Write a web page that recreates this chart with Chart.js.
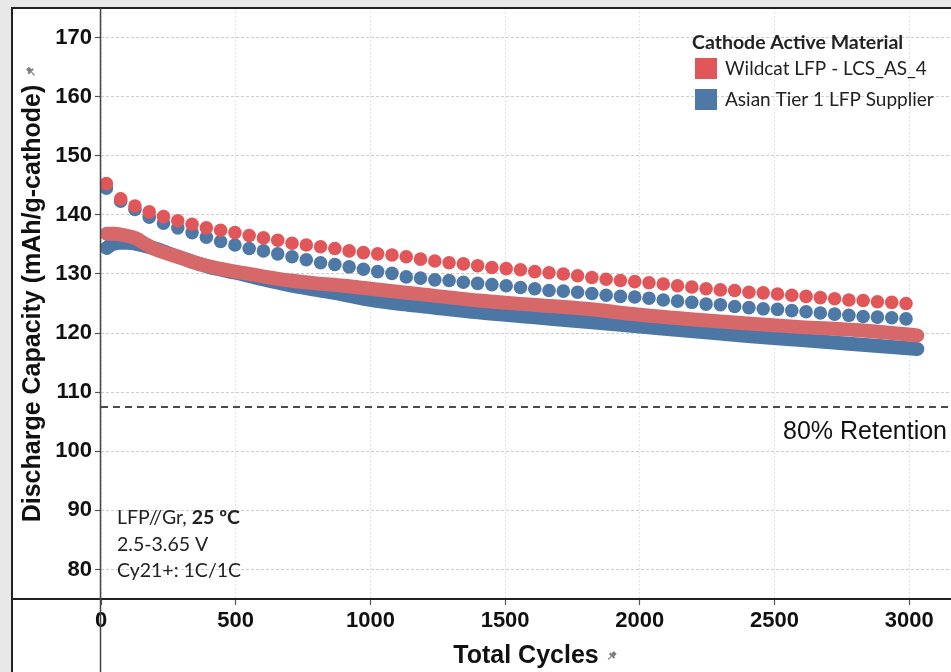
<!DOCTYPE html>
<html>
<head>
<meta charset="utf-8">
<script src="https://cdn.jsdelivr.net/npm/chart.js@4.4.1/dist/chart.umd.min.js"></script>
<style>
    html, body { margin: 0; padding: 0; background: #e8e8e8; }
    #wrap { width: 951px; height: 672px; }
</style>
</head>
<body>
<div id="wrap"><canvas id="capacityChart" width="951" height="672"></canvas></div>
<script>
// check-up cycles (sparse dots)
const sparseCycles = [
    20, 73, 126, 179, 232, 285, 338, 391, 444, 497,
    550, 603, 656, 709, 762, 815, 868, 921, 974, 1027,
    1080, 1133, 1186, 1239, 1292, 1345, 1398, 1451, 1504, 1557,
    1610, 1663, 1716, 1769, 1822, 1875, 1928, 1981, 2034, 2087,
    2140, 2193, 2246, 2299, 2352, 2405, 2458, 2511, 2564, 2617,
    2670, 2723, 2776, 2829, 2882, 2935, 2988
];
const wildcatSparse = [
    145.3, 142.7, 141.5, 140.5, 139.7, 139.0, 138.4, 137.8, 137.4, 137.0,
    136.5, 136.1, 135.7, 135.2, 134.9, 134.6, 134.3, 133.9, 133.6, 133.4,
    133.2, 132.9, 132.5, 132.2, 131.9, 131.7, 131.4, 131.1, 130.9, 130.7,
    130.4, 130.2, 130.0, 129.7, 129.4, 129.1, 128.9, 128.7, 128.5, 128.3,
    128.0, 127.8, 127.5, 127.3, 127.2, 126.9, 126.8, 126.6, 126.4, 126.2,
    126.0, 125.8, 125.6, 125.5, 125.3, 125.2, 125.0
];
const asianSparse = [
    144.5, 142.3, 140.9, 139.6, 138.6, 137.8, 137.0, 136.2, 135.5, 134.9,
    134.3, 133.9, 133.4, 132.9, 132.4, 131.9, 131.6, 131.2, 130.8, 130.4,
    130.1, 129.5, 129.3, 129.0, 128.9, 128.6, 128.4, 128.2, 128.0, 127.7,
    127.5, 127.2, 127.1, 126.9, 126.7, 126.4, 126.2, 126.1, 125.9, 125.6,
    125.4, 125.2, 124.9, 124.8, 124.5, 124.3, 124.1, 124.0, 123.8, 123.6,
    123.4, 123.2, 123.0, 122.8, 122.7, 122.6, 122.4
];

// 1C cycling (dense band)
const wildcatDenseCycles = [21, 50, 80, 110, 130, 160, 200, 250, 300, 350, 400, 450, 500, 600, 700, 800, 900, 1000, 1100, 1200, 1400, 1600, 1800, 2000, 2200, 2400, 2600, 2800, 3030];
const wildcatDense = [136.8, 136.8, 136.6, 136.3, 136.0, 135.2, 134.2, 133.4, 132.7, 131.9, 131.3, 130.8, 130.4, 129.6, 128.9, 128.4, 128.0, 127.5, 127.0, 126.5, 125.5, 124.8, 124.1, 123.1, 122.3, 121.6, 121.0, 120.5, 119.6];
const asianDenseCycles = [21, 40, 70, 100, 130, 160, 200, 250, 300, 350, 400, 450, 500, 600, 700, 800, 900, 1000, 1100, 1200, 1400, 1600, 1800, 2000, 2200, 2400, 2600, 2800, 3030];
const asianDense = [134.4, 135.0, 135.3, 135.3, 135.1, 134.8, 134.3, 133.5, 132.7, 131.9, 131.2, 130.7, 130.2, 129.1, 128.1, 127.3, 126.5, 125.6, 125.0, 124.5, 123.5, 122.7, 121.9, 121.1, 120.3, 119.5, 118.8, 118.1, 117.3];

const yTicks = [80, 90, 100, 110, 120, 130, 140, 150, 160, 170];
const xTicks = [0, 500, 1000, 1500, 2000, 2500, 3000];
const retentionValue = 107.5;

const seriesNames = ["Wildcat LFP - LCS_AS_4", "Asian Tier 1 LFP Supplier"];
const seriesColors = ["#E15759", "#4E79A7"];
const bandColors = ["#d7686a", "#4c77a5"];
const legendTitle = "Cathode Active Material";
const retentionLabel = "80% Retention";
const noteLines = [["LFP//Gr, ", "25 ºC"], ["2.5-3.65 V"], ["Cy21+: 1C/1C"]];

const AXIS_FONT = "'Liberation Sans', Arial, sans-serif";
const NOTE_FONT = "Lato, 'Open Sans', sans-serif";

function toPoints(xs, ys) {
    return xs.map((x, i) => ({ x: x, y: ys[i] }));
}

function drawPin(ctx, x, y, angle) {
    ctx.save();
    ctx.translate(x, y);
    ctx.rotate(angle);
    ctx.fillStyle = "#7f7f7f";
    ctx.strokeStyle = "#7f7f7f";
    ctx.fillRect(-2, -5, 4, 4);
    ctx.fillRect(-3.5, -1.5, 7, 2);
    ctx.lineWidth = 1.2;
    ctx.beginPath();
    ctx.moveTo(0, 0.5);
    ctx.lineTo(0, 5);
    ctx.stroke();
    ctx.restore();
}

const framePlugin = {
    id: "frame",
    beforeDraw(chart) {
        const { ctx, width, height } = chart;
        ctx.save();
        ctx.fillStyle = "#e8e8e8";
        ctx.fillRect(0, 0, width, height);
        ctx.fillStyle = "#ffffff";
        ctx.fillRect(12, 8, width - 12, height - 8);
        ctx.restore();
    },
    afterDatasetsDraw(chart) {
        const { ctx, chartArea } = chart;
        const yPix = chart.scales.y.getPixelForValue(retentionValue);
        ctx.save();
        ctx.strokeStyle = "#111";
        ctx.lineWidth = 1.5;
        ctx.setLineDash([7, 5]);
        ctx.beginPath();
        ctx.moveTo(chartArea.left, yPix);
        ctx.lineTo(chartArea.right, yPix);
        ctx.stroke();
        ctx.setLineDash([]);
        ctx.font = "25px " + AXIS_FONT;
        ctx.fillStyle = "#111";
        ctx.textAlign = "right";
        ctx.textBaseline = "middle";
        ctx.fillText(retentionLabel, chartArea.right - 4, yPix + 25);
        ctx.restore();
    },
    afterDraw(chart) {
        const { ctx, chartArea, width, height } = chart;
        ctx.save();

        // frame
        ctx.strokeStyle = "#222";
        ctx.lineWidth = 2;
        ctx.beginPath();
        ctx.moveTo(11, 8);
        ctx.lineTo(width, 8);
        ctx.moveTo(12, 8);
        ctx.lineTo(12, height);
        ctx.moveTo(12, chartArea.bottom);
        ctx.lineTo(width, chartArea.bottom);
        ctx.stroke();
        ctx.strokeStyle = "#444";
        ctx.lineWidth = 1.5;
        ctx.beginPath();
        ctx.moveTo(chartArea.left - 0.5, 8);
        ctx.lineTo(chartArea.left - 0.5, height);
        ctx.stroke();

        // legend
        const lx = chartArea.right - 259;
        ctx.textAlign = "left";
        ctx.textBaseline = "middle";
        ctx.fillStyle = "#222";
        ctx.font = "bold 19.5px " + NOTE_FONT;
        ctx.fillText(legendTitle, lx, chartArea.top + 35);
        seriesNames.forEach((name, i) => {
            const rowY = chartArea.top + 61 + i * 31;
            ctx.fillStyle = seriesColors[i];
            ctx.fillRect(lx + 3, rowY - 11, 22, 21);
            ctx.fillStyle = "#222";
            ctx.font = "19px " + NOTE_FONT;
            ctx.fillText(name, lx + 33, rowY);
        });

        // conditions note
        const nx = chartArea.left + 16;
        noteLines.forEach((parts, i) => {
            let x = nx;
            const y = chartArea.bottom - 81 + i * 26.5;
            parts.forEach((part, j) => {
                ctx.font = (j === 1 ? "bold " : "") + "19.5px " + NOTE_FONT;
                ctx.fillStyle = "#222";
                ctx.fillText(part, x, y);
                x += ctx.measureText(part).width;
            });
        });

        // pins next to the axis titles
        ctx.font = "bold 25px " + AXIS_FONT;
        const yTitleW = ctx.measureText(chart.options.scales.y.title.text).width;
        const midY = (chartArea.top + chartArea.bottom) / 2;
        drawPin(ctx, 31, midY - yTitleW / 2 - 13, -Math.PI / 4);
        const xTitleW = ctx.measureText(chart.options.scales.x.title.text).width;
        const midX = (chartArea.left + chartArea.right) / 2;
        drawPin(ctx, midX + xTitleW / 2 + 13, height - 16, Math.PI / 4);

        ctx.restore();
    }
};

const ctx = document.getElementById("capacityChart");
new Chart(ctx, {
    type: "scatter",
    data: {
        datasets: [
            {
                label: seriesNames[0],
                data: toPoints(sparseCycles, wildcatSparse),
                backgroundColor: seriesColors[0],
                borderWidth: 0,
                pointRadius: 6.8,
                pointHoverRadius: 6.8,
            },
            {
                label: seriesNames[1],
                data: toPoints(sparseCycles, asianSparse),
                backgroundColor: seriesColors[1],
                borderWidth: 0,
                pointRadius: 6.8,
                pointHoverRadius: 6.8,
            },
            {
                label: seriesNames[0] + " 1C",
                data: toPoints(wildcatDenseCycles, wildcatDense),
                showLine: true,
                borderColor: bandColors[0],
                borderWidth: 14,
                borderCapStyle: "round",
                borderJoinStyle: "round",
                cubicInterpolationMode: "monotone",
                pointRadius: 0,
                pointHoverRadius: 0,
            },
            {
                label: seriesNames[1] + " 1C",
                data: toPoints(asianDenseCycles, asianDense),
                showLine: true,
                borderColor: bandColors[1],
                borderWidth: 14,
                borderCapStyle: "round",
                borderJoinStyle: "round",
                cubicInterpolationMode: "monotone",
                pointRadius: 0,
                pointHoverRadius: 0,
            },
        ],
    },
    options: {
        responsive: false,
        animation: false,
        events: [],
        layout: { autoPadding: false, padding: { top: 8, left: 0, right: 0, bottom: 0 } },
        plugins: {
            legend: { display: false },
            tooltip: { enabled: false },
        },
        scales: {
            x: {
                type: "linear",
                min: 0,
                max: 3155,
                afterBuildTicks: (scale) => {
                    scale.ticks = xTicks.map((v) => ({ value: v }));
                },
                afterFit: (scale) => {
                    scale.height = 73;
                    scale.paddingLeft = 0;
                    scale.paddingRight = 0;
                },
                grid: {
                    color: "#e3e3e3",
                    lineWidth: 1,
                    tickColor: "#555",
                    tickLength: 6,
                    tickWidth: 1.2,
                    tickBorderDash: [],
                },
                border: { display: false, dash: [2, 2] },
                ticks: {
                    color: "#111",
                    font: { family: AXIS_FONT, size: 22, weight: "bold" },
                    padding: 3,
                    maxRotation: 0,
                    autoSkip: false,
                    callback: (value) => String(value),
                },
                title: {
                    display: true,
                    text: "Total Cycles",
                    color: "#111",
                    font: { family: AXIS_FONT, size: 25, weight: "bold" },
                    padding: { top: 0, bottom: 1 },
                },
            },
            y: {
                type: "linear",
                min: 75,
                max: 175,
                afterBuildTicks: (scale) => {
                    scale.ticks = yTicks.map((v) => ({ value: v }));
                },
                afterFit: (scale) => {
                    scale.width = 101;
                    scale.paddingTop = 0;
                    scale.paddingBottom = 0;
                },
                grid: {
                    color: "#cdcdcd",
                    lineWidth: 1,
                    tickColor: "#555",
                    tickLength: 6,
                    tickWidth: 1.2,
                    tickBorderDash: [],
                },
                border: { display: false, dash: [3, 2] },
                ticks: {
                    color: "#111",
                    font: { family: AXIS_FONT, size: 22, weight: "bold" },
                    padding: 3,
                    callback: (value) => String(value),
                },
                title: {
                    display: true,
                    text: "Discharge Capacity (mAh/g-cathode)",
                    color: "#111",
                    font: { family: AXIS_FONT, size: 25, weight: "bold" },
                    padding: { top: 18, bottom: 0 },
                },
            },
        },
    },
    plugins: [framePlugin],
});
</script>
</body>
</html>
